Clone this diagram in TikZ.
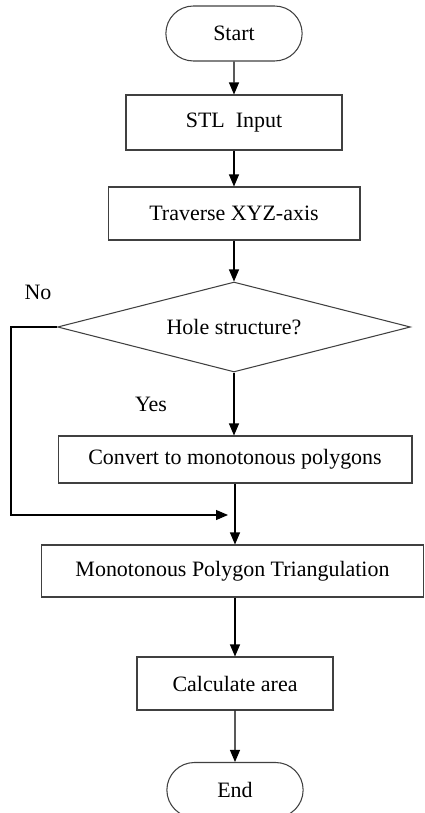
\documentclass[tikz,border=0pt]{standalone}
\usepackage{fontspec}
\setmainfont{Liberation Serif}
\usetikzlibrary{shapes.misc,shapes.geometric,arrows.meta}
\tikzset{
  terminal/.style={
    % The shape:
    rounded rectangle,
    % The size:
    minimum width=2.96cm,minimum height=1.1cm,
    % The rest
    semithick,draw=black!75},
  process/.style={
    % The shape:
    rectangle,
    % The size:
    minimum height=1.06cm,
    % The rest
    semithick,draw=black!75},
  decision/.style={
    % The shape:
    diamond,shape aspect=3.9,
    % The size:
    minimum width=7.06cm,minimum height=1.8cm,inner sep=0pt,
    % The rest
    semithick,draw=black!75},
  answer/.style={
    % The shape:
    rectangle,
    % The rest
    draw=none,inner sep=0pt}
}

\begin{document}
\begin{tikzpicture}[x=0.02cm,y=-0.02cm,>={Triangle[length=2.4mm,width=2mm]},
                    semithick,font=\fontsize{12.5}{15}\selectfont]
  \useasboundingbox (0,0) rectangle (425,813);

  \node (start)    [terminal] at (234,33.5) {Start};
  \node (stl)      [process,minimum width=4.32cm,minimum height=1.1cm] at (234,122.5) {STL\ \ Input};
  \node (traverse) [process,minimum width=5.04cm] at (234,213.5) {Traverse XYZ-axis};
  \node (hole)     [decision] at (234,327) {Hole structure?};
  \node (convert)  [process,minimum width=7.08cm,minimum height=0.94cm] at (235,459.5) {Convert to monotonous polygons};
  \node (mono)     [process,minimum width=7.66cm,minimum height=1.04cm] at (232.5,571) {Monotonous Polygon Triangulation};
  \node (calc)     [process,minimum width=3.92cm] at (235,683.5) {Calculate area};
  \node (end)      [terminal] at (235,790) {End};

  \node (no)  [answer] at (38,292)  {No};
  \node (yes) [answer] at (151,404) {Yes};

  \coordinate (skip)  at (11,515);
  \coordinate (merge) at (228,515);

  \draw[->] (start) -- (stl);
  \draw[->] (stl) -- (traverse);
  \draw[->] (traverse) -- (hole);
  \draw[->] (hole.south) -- (hole.south |- convert.north);
  \draw[->] (convert.south) -- (convert.south |- mono.north);
  \draw[->] (mono.south -| calc) -- (calc.north);
  \draw[->] (calc) -- (end);
  \draw[->] (hole.west) -| (skip) -- (merge);
\end{tikzpicture}
\end{document}
